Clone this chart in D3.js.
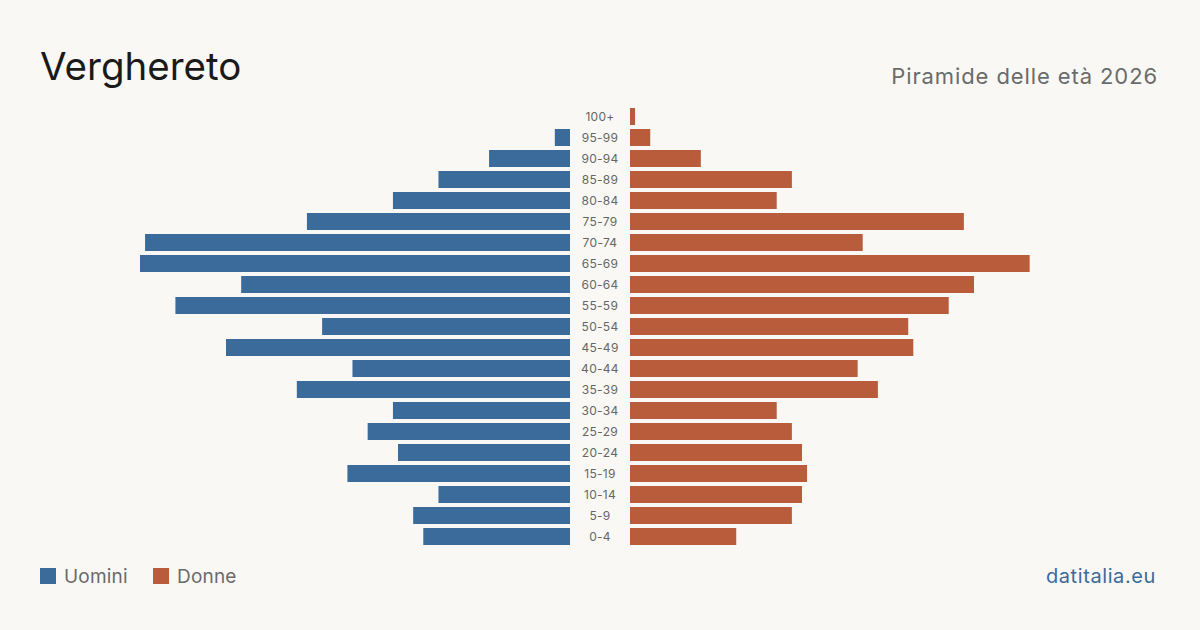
<!DOCTYPE html>
<html>
<head>
<meta charset="utf-8">
<script src="https://cdn.jsdelivr.net/npm/d3@7"></script>
<style>
  body { margin: 0; background: #f9f8f4; }
  svg { display: block; font-family: Inter, "Noto Sans", sans-serif; }
</style>
</head>
<body>
<svg id="chart"></svg>
<script>
let ages = ["100+", "95-99", "90-94", "85-89", "80-84", "75-79", "70-74", "65-69", "60-64",
  "55-59", "50-54", "45-49", "40-44", "35-39", "30-34", "25-29", "20-24", "15-19", "10-14", "5-9", "0-4"];
let uomini = [0, 3, 16, 26, 35, 52, 84, 85, 65, 78, 49, 68, 43, 54, 35, 40, 34, 44, 26, 31, 29];
let donne = [1, 4, 14, 32, 29, 66, 46, 79, 68, 63, 55, 56, 45, 49, 29, 32, 34, 35, 34, 32, 21];

let width = 1200;
let height = 630;
let leftEnd = 570;
let rightStart = 630;

let blue = "#3b6b9b";
let orange = "#b85c3c";

let svg = d3.select("#chart").attr("width", width).attr("height", height);

svg.append("rect").attr("width", width).attr("height", height).attr("fill", "#f9f8f4");

let yScale = d3.scaleBand()
  .domain(ages)
  .range([106, 106 + 21 * ages.length])
  .paddingInner(4 / 21)
  .paddingOuter(2 / 21);

let xScale = d3.scaleLinear()
  .domain([0, 85])
  .range([0, 430]);

// men, to the left
svg.append("g")
  .selectAll("rect")
  .data(ages)
  .enter()
  .append("rect")
  .attr("x", (d, i) => leftEnd - xScale(uomini[i]))
  .attr("y", (d) => yScale(d))
  .attr("width", (d, i) => xScale(uomini[i]))
  .attr("height", yScale.bandwidth())
  .attr("fill", blue);

// women, to the right
svg.append("g")
  .selectAll("rect")
  .data(ages)
  .enter()
  .append("rect")
  .attr("x", rightStart)
  .attr("y", (d) => yScale(d))
  .attr("width", (d, i) => xScale(donne[i]))
  .attr("height", yScale.bandwidth())
  .attr("fill", orange);

// age labels in the middle
let yAxis = d3.axisRight(yScale).tickSize(0).tickPadding(0);
let axisG = svg.append("g")
  .attr("transform", "translate(600, 1)")
  .call(yAxis);
axisG.select(".domain").remove();
axisG.selectAll("text")
  .attr("text-anchor", "middle")
  .attr("x", 0)
  .attr("fill", "#666")
  .style("font-size", "12px")
  .style("letter-spacing", "0.3px")
  .style("font-family", "Inter, sans-serif");

// titles
svg.append("text")
  .attr("x", 40)
  .attr("y", 80)
  .attr("fill", "#1a1a1a")
  .style("font-size", "38.5px")
  .text("Verghereto");

svg.append("text")
  .attr("x", 1158)
  .attr("y", 84)
  .attr("text-anchor", "end")
  .attr("fill", "#6b6b6b")
  .style("font-size", "22px")
  .style("letter-spacing", "0.9px")
  .text("Piramide delle età 2026");

// legend
let legend = [["Uomini", blue, 40], ["Donne", orange, 153]];
legend.forEach((l) => {
  svg.append("rect")
    .attr("x", l[2])
    .attr("y", 568)
    .attr("width", 16)
    .attr("height", 16)
    .attr("fill", l[1]);
  svg.append("text")
    .attr("x", l[2] + 24)
    .attr("y", 583)
    .attr("fill", "#6b6b6b")
    .style("font-size", "19px")
    .style("letter-spacing", "0.2px")
    .text(l[0]);
});

svg.append("text")
  .attr("x", 1156)
  .attr("y", 583)
  .attr("text-anchor", "end")
  .attr("fill", blue)
  .style("font-size", "20px")
  .style("letter-spacing", "0.6px")
  .text("datitalia.eu");
</script>
</body>
</html>
